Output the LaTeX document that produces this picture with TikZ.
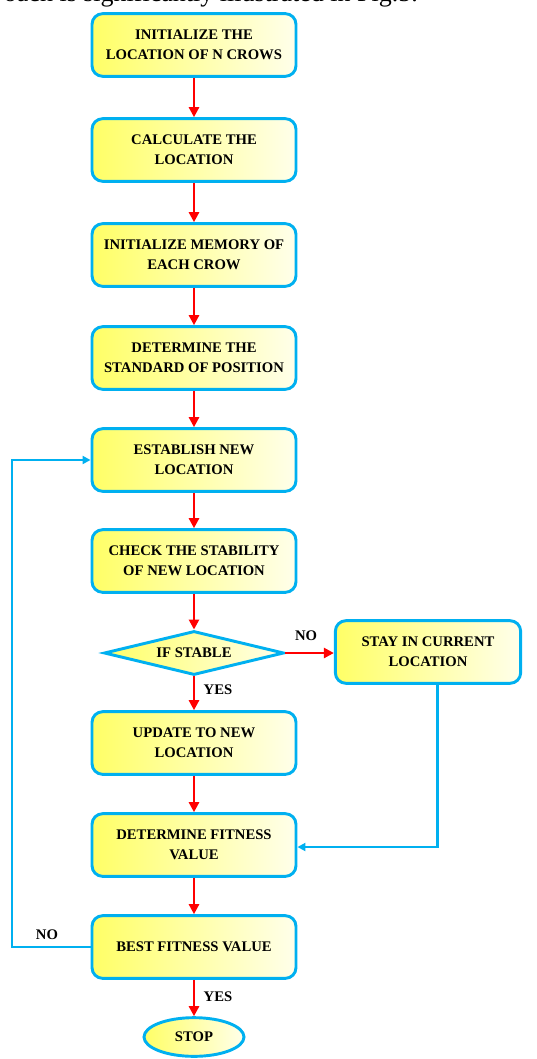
\documentclass[tikz,border=0pt]{standalone}
\usepackage{fontspec}
\setmainfont{Liberation Serif}
\usetikzlibrary{shapes.geometric,arrows.meta}

\definecolor{frameblue}{RGB}{0,176,240}
\definecolor{flowred}{RGB}{255,0,0}

\tikzset{
	boxfill/.style={left color=yellow!60, right color=yellow!8},
	stepbox/.style={draw=frameblue, line width=2.2pt, rounded corners=8pt,
		boxfill, minimum width=153pt, minimum height=47pt,
		align=center, font=\bfseries\fontsize{11}{15}\selectfont},
	flow/.style={draw=flowred, line width=2.2pt, -{Triangle[length=7.5pt,width=7.5pt]}},
	back/.style={draw=frameblue, line width=1.8pt, -{Triangle[length=6pt,width=6pt]}},
	tag/.style={font=\bfseries\fontsize{11}{12}\selectfont},
}

\begin{document}
\begin{tikzpicture}[x=0.75pt,y=-0.75pt]
		
		\useasboundingbox (0,0) rectangle (536,1059);
		\clip (0,0) rectangle (536,1059);
		
		% Cut text line above the figure
		\node [anchor=base east, inner sep=0pt,
		font=\fontsize{19.5}{22}\selectfont] (cap) at (418,2)
		{oach is significantly illustrated in Fig.5.};
		
		% Main column
		\node [stepbox] (init) at (194,45) {INITIALIZE THE\\LOCATION OF N CROWS};
		\node [stepbox] (calc) at (194,150) {CALCULATE THE\\LOCATION};
		\node [stepbox] (mem) at (194,255) {INITIALIZE MEMORY OF\\EACH CROW};
		\node [stepbox] (std) at (194,358) {DETERMINE THE\\STANDARD OF POSITION};
		\node [stepbox] (est) at (194,460) {ESTABLISH NEW\\LOCATION};
		\node [stepbox] (chk) at (194,561) {CHECK THE STABILITY\\OF NEW LOCATION};
		
		% Decision
		\node [draw=frameblue,
		line width=2.2pt,
		diamond,
		aspect=4,
		inner sep=0pt,
		boxfill,
		minimum width=135pt,
		minimum height=33pt,
		font=\bfseries\fontsize{11}{12}\selectfont] (dec) at (194,653) {IF STABLE};
		
		\node [stepbox, minimum width=139pt] (stay) at (428,652) {STAY IN CURRENT\\LOCATION};
		\node [stepbox] (upd) at (194,743) {UPDATE TO NEW\\LOCATION};
		\node [stepbox] (fit) at (194,845) {DETERMINE FITNESS\\VALUE};
		\node [stepbox] (best) at (194,947) {BEST FITNESS VALUE};
		
		% End
		\node [draw=frameblue,
		line width=2.2pt,
		ellipse,
		boxfill,
		minimum width=75pt,
		minimum height=29pt,
		font=\bfseries\fontsize{11}{12}\selectfont] (stop) at (194,1037) {STOP};
		
		% Red arrows
		\draw [flow] (init) -- (calc);
		\draw [flow] (calc) -- (mem);
		\draw [flow] (mem) -- (std);
		\draw [flow] (std) -- (est);
		\draw [flow] (est) -- (chk);
		\draw [flow] (chk) -- (dec);
		\draw [flow] (dec.east) -- (stay.west |- dec.east);
		\draw [flow] (dec) -- (upd);
		\draw [flow] (upd) -- (fit);
		\draw [flow] (fit) -- (best);
		\draw [flow] (best) -- (stop);
		
		% Blue return lines
		\draw [back] ([xshift=7pt]stay.south) |- ([yshift=-1.5pt]fit.east);
		\coordinate (loop) at (12,947);
		\draw [back] (best.west) -- (loop) |- (est.west);
		
		% Branch labels
		\node [tag] (no1) at (306,636) {NO};
		\node [tag] (yes1) at (218,690) {YES};
		\node [tag] (no2) at (47,935) {NO};
		\node [tag] (yes2) at (218,997) {YES};
		
	\end{tikzpicture}
\end{document}
